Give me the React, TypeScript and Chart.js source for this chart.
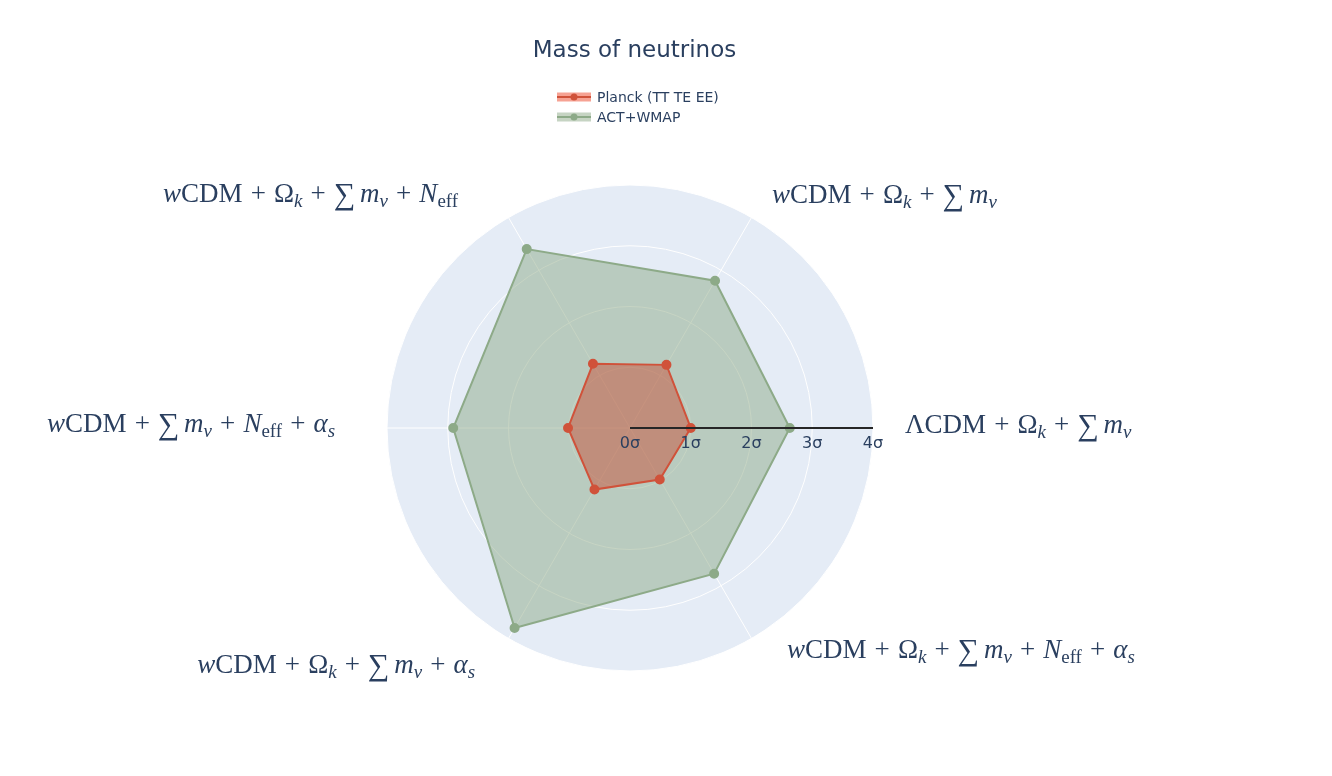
import React, { useEffect, useRef } from "react";
import { Chart, registerables } from "chart.js";

Chart.register(...registerables);

// ---------- data ----------
const TITLE = "Mass of neutrinos";
const SERIES_NAMES = ["Planck (TT TE EE)", "ACT+WMAP"];
// clockwise from the right-hand axis; *...* = italic, _{...} = subscript
const CATEGORIES = [
  "ΛCDM + Ω_{*k*} + ∑ *m*_{*ν*}",
  "*w*CDM + Ω_{*k*} + ∑ *m*_{*ν*} + *N*_{eff} + *α*_{*s*}",
  "*w*CDM + Ω_{*k*} + ∑ *m*_{*ν*} + *α*_{*s*}",
  "*w*CDM + ∑ *m*_{*ν*} + *N*_{eff} + *α*_{*s*}",
  "*w*CDM + Ω_{*k*} + ∑ *m*_{*ν*} + *N*_{eff}",
  "*w*CDM + Ω_{*k*} + ∑ *m*_{*ν*}",
];
const PLANCK = [1.0, 0.98, 1.17, 1.02, 1.22, 1.2];
const ACT_WMAP = [2.63, 2.77, 3.8, 2.91, 3.4, 2.8];
const RADIAL_TICKS = [0, 1, 2, 3, 4];
const TICK_LABELS = ["0σ", "1σ", "2σ", "3σ", "4σ"];

// ---------- styles ----------
const FONT_COLOR = "#2a3f5f";
const SANS = '"DejaVu Sans", Verdana, sans-serif';
const SERIF = '"Liberation Serif", "DejaVu Serif", serif';
const BG = "#e5ecf6";
const RED = "rgb(208,82,58)";
const RED_FILL = "rgba(200,82,58,0.5)";
const GREEN = "rgb(141,170,136)";
const GREEN_FILL = "rgba(141,170,136,0.5)";
const LABEL_SIZE = 27;
// label anchor offsets [dx, dy(baseline), align] from each axis end
const LABEL_OFFSETS: [number, number, "left" | "right"][] = [
  [32, 5, "left"],
  [35.5, 19.6, "left"],
  [-33.5, 34.6, "right"],
  [-52, 4, "right"],
  [-50.5, -15.6, "right"],
  [20.5, -14.6, "left"],
];

type Seg = { t: string; it: boolean; sub: boolean; kind: "txt" | "op" | "big" };

function parseLabel(s: string): Seg[] {
  const segs: Seg[] = [];
  let it = false;
  let sub = false;
  let buf = "";
  const flush = () => {
    if (buf) {
      segs.push({ t: buf, it, sub, kind: "txt" });
      buf = "";
    }
  };
  for (let i = 0; i < s.length; i++) {
    const c = s[i];
    if (c === "*") {
      flush();
      it = !it;
    } else if (c === "_" && s[i + 1] === "{") {
      flush();
      sub = true;
      i++;
    } else if (c === "}" && sub) {
      flush();
      sub = false;
    } else if (c === "∑") {
      flush();
      segs.push({ t: "∑", it: false, sub: false, kind: "big" });
    } else if (c === "+") {
      flush();
      segs.push({ t: "+", it: false, sub: false, kind: "op" });
    } else if (c === " ") {
      flush();
    } else {
      buf += c;
    }
  }
  flush();
  return segs;
}

function plainLabel(s: string): string {
  return s.replace(/\*/g, "").replace(/_\{([^}]*)\}/g, "$1");
}

function drawRich(
  ctx: CanvasRenderingContext2D,
  segs: Seg[],
  x: number,
  y: number,
  align: "left" | "right",
  size: number
) {
  const fontFor = (sg: Seg) => {
    const sz = sg.kind === "big" ? size * 1.12 : sg.sub ? size * 0.7 : size;
    return `${sg.it ? "italic " : ""}${sz}px ${SERIF}`;
  };
  const padL = (sg: Seg) => (sg.kind === "op" ? size * 0.3 : 0);
  const padR = (sg: Seg) => (sg.kind === "op" ? size * 0.3 : sg.kind === "big" ? size * 0.17 : 0);
  const widths = segs.map((sg) => {
    ctx.font = fontFor(sg);
    return ctx.measureText(sg.t).width + padL(sg) + padR(sg);
  });
  const total = widths.reduce((a, b) => a + b, 0);
  let cx = align === "right" ? x - total : x;
  ctx.textAlign = "left";
  ctx.textBaseline = "alphabetic";
  segs.forEach((sg, i) => {
    ctx.font = fontFor(sg);
    const dy = sg.sub ? size * 0.2 : sg.kind === "big" ? size * 0.08 : 0;
    ctx.fillText(sg.t, cx + padL(sg), y + dy);
    cx += widths[i];
  });
}

const overlay = {
  id: "overlay",
  afterDatasetsDraw(chart: any) {
    const ctx: CanvasRenderingContext2D = chart.ctx;
    const r = chart.scales.r;
    const start = r.getPointPositionForValue(0, RADIAL_TICKS[0]);
    const end = r.getPointPositionForValue(0, RADIAL_TICKS[RADIAL_TICKS.length - 1]);
    ctx.save();
    ctx.strokeStyle = "#262626";
    ctx.lineWidth = 2;
    ctx.beginPath();
    ctx.moveTo(start.x, start.y);
    ctx.lineTo(end.x, end.y);
    ctx.stroke();
    ctx.fillStyle = FONT_COLOR;
    ctx.font = `16px ${SANS}`;
    ctx.textAlign = "center";
    ctx.textBaseline = "alphabetic";
    RADIAL_TICKS.forEach((v, i) => {
      const p = r.getPointPositionForValue(0, v);
      ctx.fillText(TICK_LABELS[i], p.x, p.y + 20);
    });
    ctx.restore();
  },
  afterDraw(chart: any) {
    const ctx: CanvasRenderingContext2D = chart.ctx;
    const r = chart.scales.r;
    ctx.save();
    ctx.fillStyle = FONT_COLOR;
    // point labels
    CATEGORIES.forEach((c, i) => {
      const p = r.getPointPosition(i, r.drawingArea);
      const [dx, dy, align] = LABEL_OFFSETS[i];
      drawRich(ctx, parseLabel(c), p.x + dx, p.y + dy, align, LABEL_SIZE);
    });
    // title
    ctx.font = `23px ${SANS}`;
    ctx.textAlign = "center";
    ctx.textBaseline = "alphabetic";
    ctx.fillText(TITLE, 634.5, 57);
    // legend
    const items = [
      { name: SERIES_NAMES[0], line: RED, fill: "rgba(239,85,59,0.55)" },
      { name: SERIES_NAMES[1], line: GREEN, fill: GREEN_FILL },
    ];
    items.forEach((it, i) => {
      const cy = 97 + i * 20;
      ctx.fillStyle = it.fill;
      ctx.fillRect(557, cy - 4.5, 34, 9);
      ctx.strokeStyle = it.line;
      ctx.lineWidth = 2;
      ctx.beginPath();
      ctx.moveTo(557, cy);
      ctx.lineTo(591, cy);
      ctx.stroke();
      ctx.fillStyle = it.line;
      ctx.beginPath();
      ctx.arc(574, cy, 3.5, 0, Math.PI * 2);
      ctx.fill();
      ctx.fillStyle = FONT_COLOR;
      ctx.font = `14px ${SANS}`;
      ctx.textAlign = "left";
      ctx.fillText(it.name, 597, cy + 5);
    });
    ctx.restore();
  },
};

export default function App() {
  const ref = useRef<HTMLCanvasElement | null>(null);
  useEffect(() => {
    if (!ref.current) return;
    const chart = new Chart(ref.current, {
      type: "radar",
      data: {
        labels: CATEGORIES.map(plainLabel),
        datasets: [
          {
            label: SERIES_NAMES[0],
            data: PLANCK,
            borderColor: RED,
            backgroundColor: RED_FILL,
            pointBackgroundColor: RED,
            pointBorderColor: RED,
            pointRadius: 4,
            borderWidth: 2,
            fill: true,
          },
          {
            label: SERIES_NAMES[1],
            data: ACT_WMAP,
            borderColor: GREEN,
            backgroundColor: GREEN_FILL,
            pointBackgroundColor: GREEN,
            pointBorderColor: GREEN,
            pointRadius: 4,
            borderWidth: 2,
            fill: true,
          },
        ],
      },
      options: {
        responsive: false,
        animation: false,
        layout: { padding: { left: 387, right: 459, top: 185, bottom: 105 } },
        elements: { line: { tension: 0 } },
        plugins: {
          legend: { display: false },
          title: { display: false },
          tooltip: { enabled: false },
        },
        scales: {
          r: {
            min: 0,
            max: 4,
            startAngle: 90,
            backgroundColor: BG,
            grid: { color: "#ffffff", lineWidth: 1, circular: true },
            angleLines: { color: "#ffffff", lineWidth: 1 },
            ticks: { display: false, stepSize: 1 },
            pointLabels: { display: false },
          },
        },
      } as any,
      plugins: [overlay],
    });
    return () => chart.destroy();
  }, []);
  return (
    <div style={{ position: "absolute", left: 0, top: 0, width: 1332, height: 776, background: "#fff" }}>
      <canvas ref={ref} width={1332} height={776} style={{ display: "block" }} />
    </div>
  );
}
